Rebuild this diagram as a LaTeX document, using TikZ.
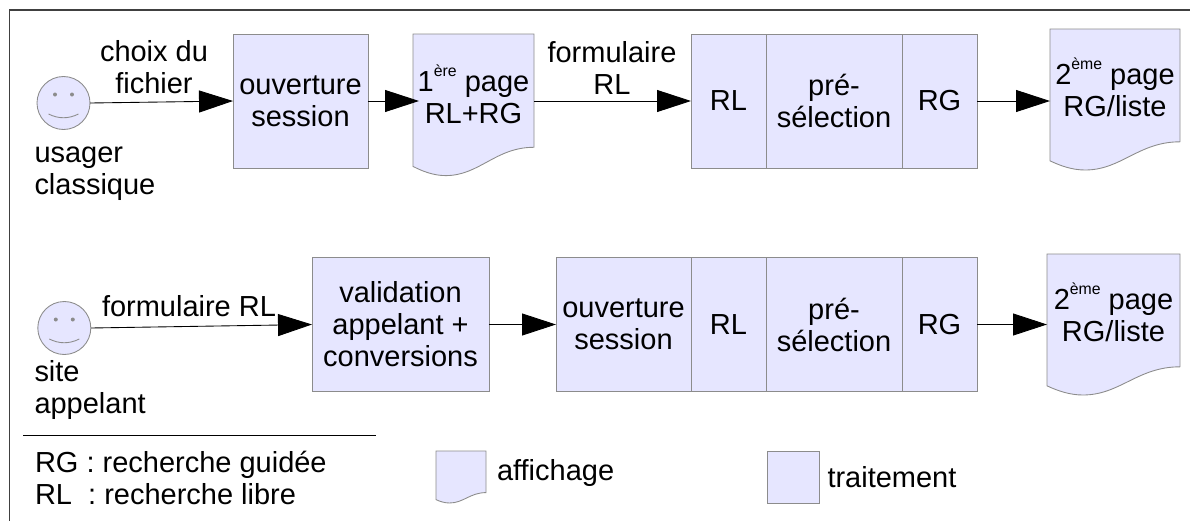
\documentclass[tikz,border=0pt]{standalone}
\usepackage{fontspec}
\setmainfont{Liberation Sans}
\usetikzlibrary{arrows.meta}
\definecolor{boxfill}{HTML}{E6E6FF}
\definecolor{boxline}{HTML}{8C8C8C}
\tikzset{
  every node/.style={font=\fontsize{16.5}{18.2}\selectfont, inner sep=0pt, outer sep=0pt},
  square/.style={rectangle, draw=boxline, fill=boxfill, line width=0.5pt, align=center},
  pageshape/.style={draw=boxline, fill=boxfill, line width=0.5pt},
  pagetext/.style={align=center},
  face/.style={circle, draw=boxline, fill=boxfill, line width=0.5pt, minimum size=1.06cm},
  flow/.style={line width=0.5pt, -{Triangle[length=0.68cm,width=0.44cm]}},
  flowlabel/.style={align=center},
  leftlabel/.style={align=left, anchor=west}
}
% page with a wavy foot: x, y of top left corner, width, height
\newcommand{\pagedoc}[4]{
  \draw[pageshape, shift={(#1,#2)}, x={#3*0.02cm}, y={-#4*0.02cm}] (0,0) -- (1,0) -- (1,.8)
    .. controls (.68,.8) and (.55,1) .. (.27,1) .. controls (.17,1) and (.08,.97) .. (0,.935) -- cycle;
}
% eyes and mouth of a face
\newcommand{\faceparts}[2]{
  \fill[boxline] (#1-8.5,#2-8.5) circle (2) (#1+8.5,#2-8.5) circle (2);
  \draw[boxline, line width=0.5pt] (#1-15,#2+11) .. controls (#1-5,#2+16) and (#1+5,#2+16) .. (#1+15,#2+11);
}
% small raised ending of an ordinal
\newcommand{\ordinal}[1]{\raisebox{0.52em}{\fontsize{9}{9}\selectfont #1}}
\begin{document}
\begin{tikzpicture}[x=0.02cm,y=-0.02cm]
\useasboundingbox (0,0) rectangle (1190,521);
\draw[line width=0.6pt, black!75] (1190,10) -- (9.5,10) -- (9.5,521);

% first row
\node[face] (usager) at (63.5,103) {};
\faceparts{63.5}{103}
\node[leftlabel] (usagerlabel) at (34.5,174) {usager\\classique};
\node[square, minimum width=2.7cm, minimum height=2.68cm] (ouverture) at (300.5,101) {ouverture\\session};
\pagedoc{413}{34}{121}{141.6}
\node[pagetext, minimum width=2.42cm] (page) at (473.5,94) {1\ordinal{ère} page\\RL+RG};
\node[square, minimum width=1.5cm, minimum height=2.68cm] (rl) at (728.5,101) {RL};
\node[square, minimum width=2.72cm, minimum height=2.68cm] (presel) at (834,101) {pré-\\sélection};
\node[square, minimum width=1.5cm, minimum height=2.68cm] (rg) at (939.5,101) {RG};
\pagedoc{1050}{29}{130}{141}
\node[pagetext, minimum width=2.6cm] (pageb) at (1115,87) {2\ordinal{ème} page\\RG/liste};
\node[flowlabel] (choix) at (154,67) {choix du\\fichier};
\node[flowlabel] (form) at (612,68) {formulaire\\RL};

\draw[flow] (usager.east) -- (ouverture.west);
\draw[flow, shorten >=-0.12cm] (ouverture.east) -- (ouverture.east -| page.west);
\draw[flow] (page.east |- rl.west) -- (rl.west);
\draw[flow] (rg.east) -- (rg.east -| pageb.west);

% second row
\node[face] (site) at (64.3,328) {};
\faceparts{64.3}{328}
\node[leftlabel] (sitelabel) at (34.5,390) {site\\appelant};
\node[square, minimum width=3.54cm, minimum height=2.69cm] (valid) at (400.5,324.5) {validation\\appelant +\\conversions};
\node[square, minimum width=2.7cm, minimum height=2.69cm] (ouvertureb) at (623.5,324.5) {ouverture\\session};
\node[square, minimum width=1.5cm, minimum height=2.69cm] (rlb) at (728.5,324.5) {RL};
\node[square, minimum width=2.72cm, minimum height=2.69cm] (preselb) at (834,324.5) {pré-\\sélection};
\node[square, minimum width=1.5cm, minimum height=2.69cm] (rgb) at (939.5,324.5) {RG};
\pagedoc{1047}{254}{133}{141}
\node[pagetext, minimum width=2.66cm] (pagec) at (1113.5,312) {2\ordinal{ème} page\\RG/liste};
\node[flowlabel, anchor=base] (formb) at (189,316) {formulaire RL};

\draw[flow] (site.east) -- (valid.west);
\draw[flow] (valid.east) -- (ouvertureb.west);
\draw[flow] (rgb.east) -- (rgb.east -| pagec.west);

% legend
\coordinate (ruleleft) at (23,435.7);
\coordinate (ruleright) at (376,435.7);
\draw[line width=0.5pt] (ruleleft) -- (ruleright);
\node[leftlabel] (sigles) at (35,478) {RG : recherche guidée\\RL\ \ : recherche libre};
\pagedoc{436}{451}{50}{52}
\node[leftlabel] (affichage) at (497,473) {affichage};
\node[square, minimum width=1.04cm, minimum height=1.04cm] (traitbox) at (793,477) {};
\node[leftlabel] (traitement) at (827.5,477) {traitement};
\end{tikzpicture}
\end{document}
